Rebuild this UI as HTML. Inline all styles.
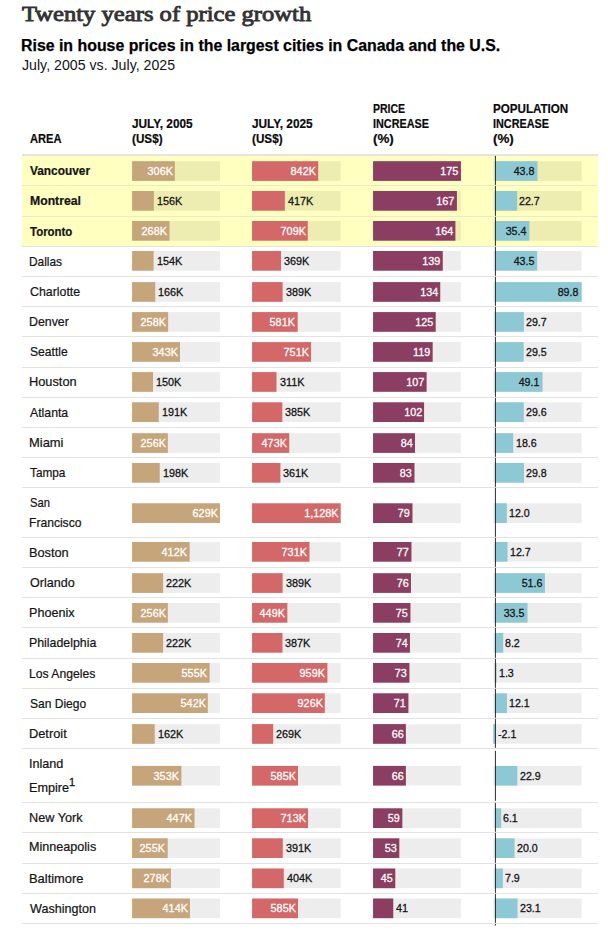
<!DOCTYPE html>
<html lang="en">
<head>
<meta charset="utf-8">
<title>Twenty years of price growth</title>
<style>
html,body{margin:0;padding:0;background:#fff;}
body{width:608px;height:933px;position:relative;overflow:hidden;font-family:"Liberation Sans",sans-serif;color:#141414;}
#g{position:absolute;left:0;top:0;width:608px;height:933px;}
.t{position:absolute;white-space:nowrap;line-height:0;margin:0;padding:0;height:0;}
.t>span{display:inline-block;line-height:0;}
.l>span{transform-origin:0 0;}
.r>span{transform-origin:100% 0;}
.r{text-align:right;}
.serif{font-family:"Liberation Serif",serif;}
.b{font-weight:700;}
.w{color:#fff;}
.lab{-webkit-text-stroke:0.3px currentColor;}
.ttl{-webkit-text-stroke:0.85px currentColor;}
.nm{-webkit-text-stroke:0.22px currentColor;}
.sub{-webkit-text-stroke:0.25px currentColor;color:#000;}
.hd{-webkit-text-stroke:0.2px currentColor;color:#0a0a0a;}
</style>
</head>
<body>
<svg id="g" width="608" height="933" viewBox="0 0 608 933">
<rect x="22.00" y="156.00" width="576.00" height="29.00" fill="#FFFFC0"/>
<rect x="22.00" y="186.00" width="576.00" height="30.00" fill="#FFFFC0"/>
<rect x="22.00" y="217.00" width="576.00" height="29.00" fill="#FFFFC0"/>
<rect x="22.00" y="154.00" width="576.00" height="2.00" fill="#E4E4E4"/>
<rect x="22.00" y="185.00" width="576.00" height="1.00" fill="#E9E9D0"/>
<rect x="22.00" y="216.00" width="576.00" height="1.00" fill="#E9E9D0"/>
<rect x="22.00" y="246.00" width="576.00" height="1.00" fill="#E2E2E2"/>
<rect x="22.00" y="276.00" width="576.00" height="1.00" fill="#E2E2E2"/>
<rect x="22.00" y="306.00" width="576.00" height="1.00" fill="#E2E2E2"/>
<rect x="22.00" y="336.00" width="576.00" height="1.00" fill="#E2E2E2"/>
<rect x="22.00" y="367.00" width="576.00" height="1.00" fill="#E2E2E2"/>
<rect x="22.00" y="397.00" width="576.00" height="1.00" fill="#E2E2E2"/>
<rect x="22.00" y="427.00" width="576.00" height="1.00" fill="#E2E2E2"/>
<rect x="22.00" y="457.00" width="576.00" height="1.00" fill="#E2E2E2"/>
<rect x="22.00" y="487.00" width="576.00" height="1.00" fill="#E2E2E2"/>
<rect x="22.00" y="537.00" width="576.00" height="1.00" fill="#E2E2E2"/>
<rect x="22.00" y="567.00" width="576.00" height="1.00" fill="#E2E2E2"/>
<rect x="22.00" y="597.00" width="576.00" height="1.00" fill="#E2E2E2"/>
<rect x="22.00" y="627.00" width="576.00" height="1.00" fill="#E2E2E2"/>
<rect x="22.00" y="658.00" width="576.00" height="1.00" fill="#E2E2E2"/>
<rect x="22.00" y="688.00" width="576.00" height="1.00" fill="#E2E2E2"/>
<rect x="22.00" y="718.00" width="576.00" height="1.00" fill="#E2E2E2"/>
<rect x="22.00" y="748.00" width="576.00" height="1.00" fill="#E2E2E2"/>
<rect x="22.00" y="802.00" width="576.00" height="1.00" fill="#E2E2E2"/>
<rect x="22.00" y="832.00" width="576.00" height="1.00" fill="#E2E2E2"/>
<rect x="22.00" y="863.00" width="576.00" height="1.00" fill="#E2E2E2"/>
<rect x="22.00" y="893.00" width="576.00" height="1.00" fill="#E2E2E2"/>
<rect x="22.00" y="923.00" width="576.00" height="1.00" fill="#E2E2E2"/>
<rect x="132.07" y="161.20" width="87.90" height="19.70" fill="rgba(0,0,0,0.07)"/>
<rect x="132.07" y="161.20" width="42.76" height="19.70" fill="#C7A57A"/>
<rect x="252.07" y="161.20" width="88.60" height="19.70" fill="rgba(0,0,0,0.07)"/>
<rect x="252.07" y="161.20" width="66.14" height="19.70" fill="#D46868"/>
<rect x="373.06" y="161.20" width="87.85" height="19.70" fill="rgba(0,0,0,0.07)"/>
<rect x="373.06" y="161.20" width="87.90" height="19.70" fill="#8B3D62"/>
<rect x="493.30" y="161.20" width="88.40" height="19.70" fill="rgba(0,0,0,0.07)"/>
<rect x="495.30" y="161.20" width="42.14" height="19.70" fill="#8DC8D5"/>
<rect x="132.07" y="191.00" width="87.90" height="19.70" fill="rgba(0,0,0,0.07)"/>
<rect x="132.07" y="191.00" width="21.80" height="19.70" fill="#C7A57A"/>
<rect x="252.07" y="191.00" width="88.60" height="19.70" fill="rgba(0,0,0,0.07)"/>
<rect x="252.07" y="191.00" width="32.75" height="19.70" fill="#D46868"/>
<rect x="373.06" y="191.00" width="87.85" height="19.70" fill="rgba(0,0,0,0.07)"/>
<rect x="373.06" y="191.00" width="83.86" height="19.70" fill="#8B3D62"/>
<rect x="493.30" y="191.00" width="88.40" height="19.70" fill="rgba(0,0,0,0.07)"/>
<rect x="495.30" y="191.00" width="21.84" height="19.70" fill="#8DC8D5"/>
<rect x="132.07" y="221.00" width="87.90" height="19.70" fill="rgba(0,0,0,0.07)"/>
<rect x="132.07" y="221.00" width="37.45" height="19.70" fill="#C7A57A"/>
<rect x="252.07" y="221.00" width="88.60" height="19.70" fill="rgba(0,0,0,0.07)"/>
<rect x="252.07" y="221.00" width="55.69" height="19.70" fill="#D46868"/>
<rect x="373.06" y="221.00" width="87.85" height="19.70" fill="rgba(0,0,0,0.07)"/>
<rect x="373.06" y="221.00" width="82.34" height="19.70" fill="#8B3D62"/>
<rect x="493.30" y="221.00" width="88.40" height="19.70" fill="rgba(0,0,0,0.07)"/>
<rect x="495.30" y="221.00" width="34.06" height="19.70" fill="#8DC8D5"/>
<rect x="132.07" y="251.00" width="87.90" height="19.70" fill="rgba(0,0,0,0.07)"/>
<rect x="132.07" y="251.00" width="21.52" height="19.70" fill="#C7A57A"/>
<rect x="252.07" y="251.00" width="88.60" height="19.70" fill="rgba(0,0,0,0.07)"/>
<rect x="252.07" y="251.00" width="28.98" height="19.70" fill="#D46868"/>
<rect x="373.06" y="251.00" width="87.85" height="19.70" fill="rgba(0,0,0,0.07)"/>
<rect x="373.06" y="251.00" width="69.71" height="19.70" fill="#8B3D62"/>
<rect x="493.30" y="251.00" width="88.40" height="19.70" fill="rgba(0,0,0,0.07)"/>
<rect x="495.30" y="251.00" width="41.85" height="19.70" fill="#8DC8D5"/>
<rect x="132.07" y="282.10" width="87.90" height="19.70" fill="rgba(0,0,0,0.07)"/>
<rect x="132.07" y="282.10" width="23.20" height="19.70" fill="#C7A57A"/>
<rect x="252.07" y="282.10" width="88.60" height="19.70" fill="rgba(0,0,0,0.07)"/>
<rect x="252.07" y="282.10" width="30.55" height="19.70" fill="#D46868"/>
<rect x="373.06" y="282.10" width="87.85" height="19.70" fill="rgba(0,0,0,0.07)"/>
<rect x="373.06" y="282.10" width="67.19" height="19.70" fill="#8B3D62"/>
<rect x="493.30" y="282.10" width="88.40" height="19.70" fill="rgba(0,0,0,0.07)"/>
<rect x="495.30" y="282.10" width="86.40" height="19.70" fill="#8DC8D5"/>
<rect x="132.07" y="312.10" width="87.90" height="19.70" fill="rgba(0,0,0,0.07)"/>
<rect x="132.07" y="312.10" width="36.05" height="19.70" fill="#C7A57A"/>
<rect x="252.07" y="312.10" width="88.60" height="19.70" fill="rgba(0,0,0,0.07)"/>
<rect x="252.07" y="312.10" width="45.64" height="19.70" fill="#D46868"/>
<rect x="373.06" y="312.10" width="87.85" height="19.70" fill="rgba(0,0,0,0.07)"/>
<rect x="373.06" y="312.10" width="62.64" height="19.70" fill="#8B3D62"/>
<rect x="493.30" y="312.10" width="88.40" height="19.70" fill="rgba(0,0,0,0.07)"/>
<rect x="495.30" y="312.10" width="28.58" height="19.70" fill="#8DC8D5"/>
<rect x="132.07" y="342.10" width="87.90" height="19.70" fill="rgba(0,0,0,0.07)"/>
<rect x="132.07" y="342.10" width="47.93" height="19.70" fill="#C7A57A"/>
<rect x="252.07" y="342.10" width="88.60" height="19.70" fill="rgba(0,0,0,0.07)"/>
<rect x="252.07" y="342.10" width="58.99" height="19.70" fill="#D46868"/>
<rect x="373.06" y="342.10" width="87.85" height="19.70" fill="rgba(0,0,0,0.07)"/>
<rect x="373.06" y="342.10" width="59.61" height="19.70" fill="#8B3D62"/>
<rect x="493.30" y="342.10" width="88.40" height="19.70" fill="rgba(0,0,0,0.07)"/>
<rect x="495.30" y="342.10" width="28.38" height="19.70" fill="#8DC8D5"/>
<rect x="132.07" y="372.10" width="87.90" height="19.70" fill="rgba(0,0,0,0.07)"/>
<rect x="132.07" y="372.10" width="20.96" height="19.70" fill="#C7A57A"/>
<rect x="252.07" y="372.10" width="88.60" height="19.70" fill="rgba(0,0,0,0.07)"/>
<rect x="252.07" y="372.10" width="24.43" height="19.70" fill="#D46868"/>
<rect x="373.06" y="372.10" width="87.85" height="19.70" fill="rgba(0,0,0,0.07)"/>
<rect x="373.06" y="372.10" width="53.55" height="19.70" fill="#8B3D62"/>
<rect x="493.30" y="372.10" width="88.40" height="19.70" fill="rgba(0,0,0,0.07)"/>
<rect x="495.30" y="372.10" width="47.24" height="19.70" fill="#8DC8D5"/>
<rect x="132.07" y="402.30" width="87.90" height="19.70" fill="rgba(0,0,0,0.07)"/>
<rect x="132.07" y="402.30" width="26.69" height="19.70" fill="#C7A57A"/>
<rect x="252.07" y="402.30" width="88.60" height="19.70" fill="rgba(0,0,0,0.07)"/>
<rect x="252.07" y="402.30" width="30.24" height="19.70" fill="#D46868"/>
<rect x="373.06" y="402.30" width="87.85" height="19.70" fill="rgba(0,0,0,0.07)"/>
<rect x="373.06" y="402.30" width="51.02" height="19.70" fill="#8B3D62"/>
<rect x="493.30" y="402.30" width="88.40" height="19.70" fill="rgba(0,0,0,0.07)"/>
<rect x="495.30" y="402.30" width="28.48" height="19.70" fill="#8DC8D5"/>
<rect x="132.07" y="433.20" width="87.90" height="19.70" fill="rgba(0,0,0,0.07)"/>
<rect x="132.07" y="433.20" width="35.77" height="19.70" fill="#C7A57A"/>
<rect x="252.07" y="433.20" width="88.60" height="19.70" fill="rgba(0,0,0,0.07)"/>
<rect x="252.07" y="433.20" width="37.15" height="19.70" fill="#D46868"/>
<rect x="373.06" y="433.20" width="87.85" height="19.70" fill="rgba(0,0,0,0.07)"/>
<rect x="373.06" y="433.20" width="41.93" height="19.70" fill="#8B3D62"/>
<rect x="493.30" y="433.20" width="88.40" height="19.70" fill="rgba(0,0,0,0.07)"/>
<rect x="495.30" y="433.20" width="17.90" height="19.70" fill="#8DC8D5"/>
<rect x="132.07" y="463.00" width="87.90" height="19.70" fill="rgba(0,0,0,0.07)"/>
<rect x="132.07" y="463.00" width="27.67" height="19.70" fill="#C7A57A"/>
<rect x="252.07" y="463.00" width="88.60" height="19.70" fill="rgba(0,0,0,0.07)"/>
<rect x="252.07" y="463.00" width="28.36" height="19.70" fill="#D46868"/>
<rect x="373.06" y="463.00" width="87.85" height="19.70" fill="rgba(0,0,0,0.07)"/>
<rect x="373.06" y="463.00" width="41.43" height="19.70" fill="#8B3D62"/>
<rect x="493.30" y="463.00" width="88.40" height="19.70" fill="rgba(0,0,0,0.07)"/>
<rect x="495.30" y="463.00" width="28.67" height="19.70" fill="#8DC8D5"/>
<rect x="132.07" y="503.30" width="87.90" height="19.70" fill="rgba(0,0,0,0.07)"/>
<rect x="132.07" y="503.30" width="87.90" height="19.70" fill="#C7A57A"/>
<rect x="252.07" y="503.30" width="88.60" height="19.70" fill="rgba(0,0,0,0.07)"/>
<rect x="252.07" y="503.30" width="88.60" height="19.70" fill="#D46868"/>
<rect x="373.06" y="503.30" width="87.85" height="19.70" fill="rgba(0,0,0,0.07)"/>
<rect x="373.06" y="503.30" width="39.41" height="19.70" fill="#8B3D62"/>
<rect x="493.30" y="503.30" width="88.40" height="19.70" fill="rgba(0,0,0,0.07)"/>
<rect x="495.30" y="503.30" width="11.55" height="19.70" fill="#8DC8D5"/>
<rect x="132.07" y="542.00" width="87.90" height="19.70" fill="rgba(0,0,0,0.07)"/>
<rect x="132.07" y="542.00" width="57.58" height="19.70" fill="#C7A57A"/>
<rect x="252.07" y="542.00" width="88.60" height="19.70" fill="rgba(0,0,0,0.07)"/>
<rect x="252.07" y="542.00" width="57.42" height="19.70" fill="#D46868"/>
<rect x="373.06" y="542.00" width="87.85" height="19.70" fill="rgba(0,0,0,0.07)"/>
<rect x="373.06" y="542.00" width="38.40" height="19.70" fill="#8B3D62"/>
<rect x="493.30" y="542.00" width="88.40" height="19.70" fill="rgba(0,0,0,0.07)"/>
<rect x="495.30" y="542.00" width="12.22" height="19.70" fill="#8DC8D5"/>
<rect x="132.07" y="573.20" width="87.90" height="19.70" fill="rgba(0,0,0,0.07)"/>
<rect x="132.07" y="573.20" width="31.02" height="19.70" fill="#C7A57A"/>
<rect x="252.07" y="573.20" width="88.60" height="19.70" fill="rgba(0,0,0,0.07)"/>
<rect x="252.07" y="573.20" width="30.55" height="19.70" fill="#D46868"/>
<rect x="373.06" y="573.20" width="87.85" height="19.70" fill="rgba(0,0,0,0.07)"/>
<rect x="373.06" y="573.20" width="37.89" height="19.70" fill="#8B3D62"/>
<rect x="493.30" y="573.20" width="88.40" height="19.70" fill="rgba(0,0,0,0.07)"/>
<rect x="495.30" y="573.20" width="49.65" height="19.70" fill="#8DC8D5"/>
<rect x="132.07" y="603.00" width="87.90" height="19.70" fill="rgba(0,0,0,0.07)"/>
<rect x="132.07" y="603.00" width="35.77" height="19.70" fill="#C7A57A"/>
<rect x="252.07" y="603.00" width="88.60" height="19.70" fill="rgba(0,0,0,0.07)"/>
<rect x="252.07" y="603.00" width="35.27" height="19.70" fill="#D46868"/>
<rect x="373.06" y="603.00" width="87.85" height="19.70" fill="rgba(0,0,0,0.07)"/>
<rect x="373.06" y="603.00" width="37.39" height="19.70" fill="#8B3D62"/>
<rect x="493.30" y="603.00" width="88.40" height="19.70" fill="rgba(0,0,0,0.07)"/>
<rect x="495.30" y="603.00" width="32.23" height="19.70" fill="#8DC8D5"/>
<rect x="132.07" y="633.00" width="87.90" height="19.70" fill="rgba(0,0,0,0.07)"/>
<rect x="132.07" y="633.00" width="31.02" height="19.70" fill="#C7A57A"/>
<rect x="252.07" y="633.00" width="88.60" height="19.70" fill="rgba(0,0,0,0.07)"/>
<rect x="252.07" y="633.00" width="30.40" height="19.70" fill="#D46868"/>
<rect x="373.06" y="633.00" width="87.85" height="19.70" fill="rgba(0,0,0,0.07)"/>
<rect x="373.06" y="633.00" width="36.88" height="19.70" fill="#8B3D62"/>
<rect x="493.30" y="633.00" width="88.40" height="19.70" fill="rgba(0,0,0,0.07)"/>
<rect x="495.30" y="633.00" width="7.89" height="19.70" fill="#8DC8D5"/>
<rect x="132.07" y="663.00" width="87.90" height="19.70" fill="rgba(0,0,0,0.07)"/>
<rect x="132.07" y="663.00" width="77.56" height="19.70" fill="#C7A57A"/>
<rect x="252.07" y="663.00" width="88.60" height="19.70" fill="rgba(0,0,0,0.07)"/>
<rect x="252.07" y="663.00" width="75.33" height="19.70" fill="#D46868"/>
<rect x="373.06" y="663.00" width="87.85" height="19.70" fill="rgba(0,0,0,0.07)"/>
<rect x="373.06" y="663.00" width="36.38" height="19.70" fill="#8B3D62"/>
<rect x="493.30" y="663.00" width="88.40" height="19.70" fill="rgba(0,0,0,0.07)"/>
<rect x="495.30" y="663.00" width="1.25" height="19.70" fill="#8DC8D5"/>
<rect x="132.07" y="693.30" width="87.90" height="19.70" fill="rgba(0,0,0,0.07)"/>
<rect x="132.07" y="693.30" width="75.74" height="19.70" fill="#C7A57A"/>
<rect x="252.07" y="693.30" width="88.60" height="19.70" fill="rgba(0,0,0,0.07)"/>
<rect x="252.07" y="693.30" width="72.73" height="19.70" fill="#D46868"/>
<rect x="373.06" y="693.30" width="87.85" height="19.70" fill="rgba(0,0,0,0.07)"/>
<rect x="373.06" y="693.30" width="35.37" height="19.70" fill="#8B3D62"/>
<rect x="493.30" y="693.30" width="88.40" height="19.70" fill="rgba(0,0,0,0.07)"/>
<rect x="495.30" y="693.30" width="11.64" height="19.70" fill="#8DC8D5"/>
<rect x="132.07" y="724.10" width="87.90" height="19.70" fill="rgba(0,0,0,0.07)"/>
<rect x="132.07" y="724.10" width="22.64" height="19.70" fill="#C7A57A"/>
<rect x="252.07" y="724.10" width="88.60" height="19.70" fill="rgba(0,0,0,0.07)"/>
<rect x="252.07" y="724.10" width="21.13" height="19.70" fill="#D46868"/>
<rect x="373.06" y="724.10" width="87.85" height="19.70" fill="rgba(0,0,0,0.07)"/>
<rect x="373.06" y="724.10" width="32.84" height="19.70" fill="#8B3D62"/>
<rect x="493.30" y="724.10" width="88.40" height="19.70" fill="rgba(0,0,0,0.07)"/>
<rect x="493.28" y="724.10" width="2.02" height="19.70" fill="#8DC8D5"/>
<rect x="132.07" y="765.90" width="87.90" height="19.70" fill="rgba(0,0,0,0.07)"/>
<rect x="132.07" y="765.90" width="49.33" height="19.70" fill="#C7A57A"/>
<rect x="252.07" y="765.90" width="88.60" height="19.70" fill="rgba(0,0,0,0.07)"/>
<rect x="252.07" y="765.90" width="45.95" height="19.70" fill="#D46868"/>
<rect x="373.06" y="765.90" width="87.85" height="19.70" fill="rgba(0,0,0,0.07)"/>
<rect x="373.06" y="765.90" width="32.84" height="19.70" fill="#8B3D62"/>
<rect x="493.30" y="765.90" width="88.40" height="19.70" fill="rgba(0,0,0,0.07)"/>
<rect x="495.30" y="765.90" width="22.03" height="19.70" fill="#8DC8D5"/>
<rect x="132.07" y="808.30" width="87.90" height="19.70" fill="rgba(0,0,0,0.07)"/>
<rect x="132.07" y="808.30" width="62.47" height="19.70" fill="#C7A57A"/>
<rect x="252.07" y="808.30" width="88.60" height="19.70" fill="rgba(0,0,0,0.07)"/>
<rect x="252.07" y="808.30" width="56.00" height="19.70" fill="#D46868"/>
<rect x="373.06" y="808.30" width="87.85" height="19.70" fill="rgba(0,0,0,0.07)"/>
<rect x="373.06" y="808.30" width="29.30" height="19.70" fill="#8B3D62"/>
<rect x="493.30" y="808.30" width="88.40" height="19.70" fill="rgba(0,0,0,0.07)"/>
<rect x="495.30" y="808.30" width="5.87" height="19.70" fill="#8DC8D5"/>
<rect x="132.07" y="838.30" width="87.90" height="19.70" fill="rgba(0,0,0,0.07)"/>
<rect x="132.07" y="838.30" width="35.64" height="19.70" fill="#C7A57A"/>
<rect x="252.07" y="838.30" width="88.60" height="19.70" fill="rgba(0,0,0,0.07)"/>
<rect x="252.07" y="838.30" width="30.71" height="19.70" fill="#D46868"/>
<rect x="373.06" y="838.30" width="87.85" height="19.70" fill="rgba(0,0,0,0.07)"/>
<rect x="373.06" y="838.30" width="26.27" height="19.70" fill="#8B3D62"/>
<rect x="493.30" y="838.30" width="88.40" height="19.70" fill="rgba(0,0,0,0.07)"/>
<rect x="495.30" y="838.30" width="19.24" height="19.70" fill="#8DC8D5"/>
<rect x="132.07" y="868.50" width="87.90" height="19.70" fill="rgba(0,0,0,0.07)"/>
<rect x="132.07" y="868.50" width="38.85" height="19.70" fill="#C7A57A"/>
<rect x="252.07" y="868.50" width="88.60" height="19.70" fill="rgba(0,0,0,0.07)"/>
<rect x="252.07" y="868.50" width="31.73" height="19.70" fill="#D46868"/>
<rect x="373.06" y="868.50" width="87.85" height="19.70" fill="rgba(0,0,0,0.07)"/>
<rect x="373.06" y="868.50" width="22.23" height="19.70" fill="#8B3D62"/>
<rect x="493.30" y="868.50" width="88.40" height="19.70" fill="rgba(0,0,0,0.07)"/>
<rect x="495.30" y="868.50" width="7.60" height="19.70" fill="#8DC8D5"/>
<rect x="132.07" y="898.50" width="87.90" height="19.70" fill="rgba(0,0,0,0.07)"/>
<rect x="132.07" y="898.50" width="57.85" height="19.70" fill="#C7A57A"/>
<rect x="252.07" y="898.50" width="88.60" height="19.70" fill="rgba(0,0,0,0.07)"/>
<rect x="252.07" y="898.50" width="45.95" height="19.70" fill="#D46868"/>
<rect x="373.06" y="898.50" width="87.85" height="19.70" fill="rgba(0,0,0,0.07)"/>
<rect x="373.06" y="898.50" width="20.21" height="19.70" fill="#8B3D62"/>
<rect x="493.30" y="898.50" width="88.40" height="19.70" fill="rgba(0,0,0,0.07)"/>
<rect x="495.30" y="898.50" width="22.23" height="19.70" fill="#8DC8D5"/>
<rect x="494.90" y="155.85" width="1.10" height="29.00" fill="rgba(0,0,0,0.75)"/>
<rect x="494.90" y="185.85" width="1.10" height="30.00" fill="rgba(0,0,0,0.75)"/>
<rect x="494.90" y="216.85" width="1.10" height="29.00" fill="rgba(0,0,0,0.75)"/>
<rect x="494.90" y="246.85" width="1.10" height="29.00" fill="rgba(0,0,0,0.75)"/>
<rect x="494.90" y="276.85" width="1.10" height="29.00" fill="rgba(0,0,0,0.75)"/>
<rect x="494.90" y="306.85" width="1.10" height="29.00" fill="rgba(0,0,0,0.75)"/>
<rect x="494.90" y="336.85" width="1.10" height="30.00" fill="rgba(0,0,0,0.75)"/>
<rect x="494.90" y="367.85" width="1.10" height="29.00" fill="rgba(0,0,0,0.75)"/>
<rect x="494.90" y="397.85" width="1.10" height="29.00" fill="rgba(0,0,0,0.75)"/>
<rect x="494.90" y="427.85" width="1.10" height="29.00" fill="rgba(0,0,0,0.75)"/>
<rect x="494.90" y="457.85" width="1.10" height="29.00" fill="rgba(0,0,0,0.75)"/>
<rect x="494.90" y="487.85" width="1.10" height="49.00" fill="rgba(0,0,0,0.75)"/>
<rect x="494.90" y="537.85" width="1.10" height="29.00" fill="rgba(0,0,0,0.75)"/>
<rect x="494.90" y="567.85" width="1.10" height="29.00" fill="rgba(0,0,0,0.75)"/>
<rect x="494.90" y="597.85" width="1.10" height="29.00" fill="rgba(0,0,0,0.75)"/>
<rect x="494.90" y="627.85" width="1.10" height="30.00" fill="rgba(0,0,0,0.75)"/>
<rect x="494.90" y="658.85" width="1.10" height="29.00" fill="rgba(0,0,0,0.75)"/>
<rect x="494.90" y="688.85" width="1.10" height="29.00" fill="rgba(0,0,0,0.75)"/>
<rect x="494.90" y="718.85" width="1.10" height="29.00" fill="rgba(0,0,0,0.75)"/>
<rect x="494.90" y="750.85" width="1.10" height="50.00" fill="rgba(0,0,0,0.75)"/>
<rect x="494.90" y="802.85" width="1.10" height="29.00" fill="rgba(0,0,0,0.75)"/>
<rect x="494.90" y="832.85" width="1.10" height="30.00" fill="rgba(0,0,0,0.75)"/>
<rect x="494.90" y="863.85" width="1.10" height="29.00" fill="rgba(0,0,0,0.75)"/>
<rect x="494.90" y="893.85" width="1.10" height="29.00" fill="rgba(0,0,0,0.75)"/>
<rect x="494.90" y="924.00" width="1.10" height="1.50" fill="rgba(0,0,0,0.75)"/>
</svg>
<div class="t l serif ttl" style="font-size:21px;top:14px;left:21.60px;color:#333333;"><span style="transform:scaleX(1.1712)">Twenty years of price growth</span></div>
<div class="t l b sub" style="font-size:16px;top:46px;left:21.31px;"><span style="transform:scaleX(0.9926)">Rise in house prices in the largest cities in Canada and the U.S.</span></div>
<div class="t l" style="font-size:14px;top:65px;left:22.40px;"><span style="transform:scaleX(1.0122)">July, 2005 vs. July, 2025</span></div>
<div class="t l b hd" style="font-size:12.5px;top:139px;left:29.90px;"><span style="transform:scaleX(0.8900)">AREA</span></div>
<div class="t l b hd" style="font-size:12.5px;top:124px;left:132.10px;"><span style="transform:scaleX(0.9452)">JULY, 2005</span></div>
<div class="t l b hd" style="font-size:12.5px;top:139px;left:132.10px;"><span style="transform:scaleX(0.9360)">(US$)</span></div>
<div class="t l b hd" style="font-size:12.5px;top:124px;left:252.10px;"><span style="transform:scaleX(0.9452)">JULY, 2025</span></div>
<div class="t l b hd" style="font-size:12.5px;top:139px;left:252.10px;"><span style="transform:scaleX(0.9360)">(US$)</span></div>
<div class="t l b hd" style="font-size:12.5px;top:109px;left:373.20px;"><span style="transform:scaleX(0.8398)">PRICE</span></div>
<div class="t l b hd" style="font-size:12.5px;top:124px;left:373.20px;"><span style="transform:scaleX(0.8653)">INCREASE</span></div>
<div class="t l b hd" style="font-size:12.5px;top:139px;left:373.20px;"><span style="transform:scaleX(1.0686)">(%)</span></div>
<div class="t l b hd" style="font-size:12.5px;top:109px;left:493.20px;"><span style="transform:scaleX(0.9285)">POPULATION</span></div>
<div class="t l b hd" style="font-size:12.5px;top:124px;left:493.20px;"><span style="transform:scaleX(0.8653)">INCREASE</span></div>
<div class="t l b hd" style="font-size:12.5px;top:139px;left:493.20px;"><span style="transform:scaleX(1.0686)">(%)</span></div>
<div class="t l b nm" style="font-size:13.0px;top:171px;left:29.80px;"><span style="transform:scaleX(0.9133)">Vancouver</span></div>
<div class="t r lab w" style="font-size:11.5px;top:171px;right:435.57px;"><span style="transform:scaleX(0.9400)">306K</span></div>
<div class="t r lab w" style="font-size:11.5px;top:171px;right:292.19px;"><span style="transform:scaleX(0.9400)">842K</span></div>
<div class="t r lab w" style="font-size:11.5px;top:171px;right:149.44px;"><span style="transform:scaleX(0.9400)">175</span></div>
<div class="t r lab" style="font-size:11.5px;top:171px;right:73.56px;"><span style="transform:scaleX(0.9250)">43.8</span></div>
<div class="t l b nm" style="font-size:13.0px;top:201px;left:29.80px;"><span style="transform:scaleX(0.9391)">Montreal</span></div>
<div class="t l lab" style="font-size:11.5px;top:201px;left:156.87px;"><span style="transform:scaleX(0.9400)">156K</span></div>
<div class="t l lab" style="font-size:11.5px;top:201px;left:287.82px;"><span style="transform:scaleX(0.9400)">417K</span></div>
<div class="t r lab w" style="font-size:11.5px;top:201px;right:153.48px;"><span style="transform:scaleX(0.9400)">167</span></div>
<div class="t l lab" style="font-size:11.5px;top:201px;left:519.44px;"><span style="transform:scaleX(0.9250)">22.7</span></div>
<div class="t l b nm" style="font-size:13.0px;top:232px;left:29.80px;"><span style="transform:scaleX(0.8799)">Toronto</span></div>
<div class="t r lab w" style="font-size:11.5px;top:231px;right:440.88px;"><span style="transform:scaleX(0.9400)">268K</span></div>
<div class="t r lab w" style="font-size:11.5px;top:231px;right:302.64px;"><span style="transform:scaleX(0.9400)">709K</span></div>
<div class="t r lab w" style="font-size:11.5px;top:231px;right:155.00px;"><span style="transform:scaleX(0.9400)">164</span></div>
<div class="t r lab" style="font-size:11.5px;top:231px;right:81.64px;"><span style="transform:scaleX(0.9250)">35.4</span></div>
<div class="t l nm" style="font-size:13.0px;top:262px;left:28.88px;"><span style="transform:scaleX(0.9151)">Dallas</span></div>
<div class="t l lab" style="font-size:11.5px;top:261px;left:156.59px;"><span style="transform:scaleX(0.9400)">154K</span></div>
<div class="t l lab" style="font-size:11.5px;top:261px;left:284.05px;"><span style="transform:scaleX(0.9400)">369K</span></div>
<div class="t r lab w" style="font-size:11.5px;top:261px;right:167.63px;"><span style="transform:scaleX(0.9400)">139</span></div>
<div class="t r lab" style="font-size:11.5px;top:261px;right:73.85px;"><span style="transform:scaleX(0.9250)">43.5</span></div>
<div class="t l nm" style="font-size:13.0px;top:292px;left:29.80px;"><span style="transform:scaleX(0.9501)">Charlotte</span></div>
<div class="t l lab" style="font-size:11.5px;top:292px;left:158.27px;"><span style="transform:scaleX(0.9400)">166K</span></div>
<div class="t l lab" style="font-size:11.5px;top:292px;left:285.62px;"><span style="transform:scaleX(0.9400)">389K</span></div>
<div class="t r lab w" style="font-size:11.5px;top:292px;right:170.15px;"><span style="transform:scaleX(0.9400)">134</span></div>
<div class="t r lab" style="font-size:11.5px;top:292px;right:29.30px;"><span style="transform:scaleX(0.9250)">89.8</span></div>
<div class="t l nm" style="font-size:13.0px;top:322px;left:28.85px;"><span style="transform:scaleX(0.9500)">Denver</span></div>
<div class="t r lab w" style="font-size:11.5px;top:322px;right:442.28px;"><span style="transform:scaleX(0.9400)">258K</span></div>
<div class="t r lab w" style="font-size:11.5px;top:322px;right:312.69px;"><span style="transform:scaleX(0.9400)">581K</span></div>
<div class="t r lab w" style="font-size:11.5px;top:322px;right:174.70px;"><span style="transform:scaleX(0.9400)">125</span></div>
<div class="t l lab" style="font-size:11.5px;top:322px;left:526.18px;"><span style="transform:scaleX(0.9250)">29.7</span></div>
<div class="t l nm" style="font-size:13.0px;top:352px;left:29.80px;"><span style="transform:scaleX(0.9318)">Seattle</span></div>
<div class="t r lab w" style="font-size:11.5px;top:352px;right:430.40px;"><span style="transform:scaleX(0.9400)">343K</span></div>
<div class="t r lab w" style="font-size:11.5px;top:352px;right:299.34px;"><span style="transform:scaleX(0.9400)">751K</span></div>
<div class="t r lab w" style="font-size:11.5px;top:352px;right:177.73px;"><span style="transform:scaleX(0.9400)">119</span></div>
<div class="t l lab" style="font-size:11.5px;top:352px;left:525.98px;"><span style="transform:scaleX(0.9250)">29.5</span></div>
<div class="t l nm" style="font-size:13.0px;top:382px;left:28.82px;"><span style="transform:scaleX(0.9833)">Houston</span></div>
<div class="t l lab" style="font-size:11.5px;top:382px;left:156.03px;"><span style="transform:scaleX(0.9400)">150K</span></div>
<div class="t l lab" style="font-size:11.5px;top:382px;left:279.50px;"><span style="transform:scaleX(0.9400)">311K</span></div>
<div class="t r lab w" style="font-size:11.5px;top:382px;right:183.79px;"><span style="transform:scaleX(0.9400)">107</span></div>
<div class="t r lab" style="font-size:11.5px;top:382px;right:68.46px;"><span style="transform:scaleX(0.9250)">49.1</span></div>
<div class="t l nm" style="font-size:13.0px;top:413px;left:29.80px;"><span style="transform:scaleX(0.9432)">Atlanta</span></div>
<div class="t l lab" style="font-size:11.5px;top:412px;left:161.76px;"><span style="transform:scaleX(0.9400)">191K</span></div>
<div class="t l lab" style="font-size:11.5px;top:412px;left:285.31px;"><span style="transform:scaleX(0.9400)">385K</span></div>
<div class="t r lab w" style="font-size:11.5px;top:412px;right:186.32px;"><span style="transform:scaleX(0.9400)">102</span></div>
<div class="t l lab" style="font-size:11.5px;top:412px;left:526.08px;"><span style="transform:scaleX(0.9250)">29.6</span></div>
<div class="t l nm" style="font-size:13.0px;top:443px;left:28.81px;"><span style="transform:scaleX(0.9948)">Miami</span></div>
<div class="t r lab w" style="font-size:11.5px;top:443px;right:442.56px;"><span style="transform:scaleX(0.9400)">256K</span></div>
<div class="t r lab w" style="font-size:11.5px;top:443px;right:321.18px;"><span style="transform:scaleX(0.9400)">473K</span></div>
<div class="t r lab w" style="font-size:11.5px;top:443px;right:195.41px;"><span style="transform:scaleX(0.9400)">84</span></div>
<div class="t l lab" style="font-size:11.5px;top:443px;left:515.50px;"><span style="transform:scaleX(0.9250)">18.6</span></div>
<div class="t l nm" style="font-size:13.0px;top:473px;left:29.80px;"><span style="transform:scaleX(0.9073)">Tampa</span></div>
<div class="t l lab" style="font-size:11.5px;top:473px;left:162.74px;"><span style="transform:scaleX(0.9400)">198K</span></div>
<div class="t l lab" style="font-size:11.5px;top:473px;left:283.43px;"><span style="transform:scaleX(0.9400)">361K</span></div>
<div class="t r lab w" style="font-size:11.5px;top:473px;right:195.91px;"><span style="transform:scaleX(0.9400)">83</span></div>
<div class="t l lab" style="font-size:11.5px;top:473px;left:526.27px;"><span style="transform:scaleX(0.9250)">29.8</span></div>
<div class="t l nm" style="font-size:13.0px;top:503px;left:29.80px;"><span style="transform:scaleX(0.8602)">San</span></div>
<div class="t l nm" style="font-size:13.0px;top:523px;left:28.87px;"><span style="transform:scaleX(0.9307)">Francisco</span></div>
<div class="t r lab w" style="font-size:11.5px;top:513px;right:390.43px;"><span style="transform:scaleX(0.9400)">629K</span></div>
<div class="t r lab w" style="font-size:11.5px;top:513px;right:269.73px;"><span style="transform:scaleX(0.9400)">1,128K</span></div>
<div class="t r lab w" style="font-size:11.5px;top:513px;right:197.93px;"><span style="transform:scaleX(0.9400)">79</span></div>
<div class="t l lab" style="font-size:11.5px;top:513px;left:509.15px;"><span style="transform:scaleX(0.9250)">12.0</span></div>
<div class="t l nm" style="font-size:13.0px;top:553px;left:28.82px;"><span style="transform:scaleX(0.9811)">Boston</span></div>
<div class="t r lab w" style="font-size:11.5px;top:552px;right:420.75px;"><span style="transform:scaleX(0.9400)">412K</span></div>
<div class="t r lab w" style="font-size:11.5px;top:552px;right:300.91px;"><span style="transform:scaleX(0.9400)">731K</span></div>
<div class="t r lab w" style="font-size:11.5px;top:552px;right:198.94px;"><span style="transform:scaleX(0.9400)">77</span></div>
<div class="t l lab" style="font-size:11.5px;top:552px;left:509.82px;"><span style="transform:scaleX(0.9250)">12.7</span></div>
<div class="t l nm" style="font-size:13.0px;top:583px;left:29.80px;"><span style="transform:scaleX(0.9648)">Orlando</span></div>
<div class="t l lab" style="font-size:11.5px;top:583px;left:166.09px;"><span style="transform:scaleX(0.9400)">222K</span></div>
<div class="t l lab" style="font-size:11.5px;top:583px;left:285.62px;"><span style="transform:scaleX(0.9400)">389K</span></div>
<div class="t r lab w" style="font-size:11.5px;top:583px;right:199.45px;"><span style="transform:scaleX(0.9400)">76</span></div>
<div class="t r lab" style="font-size:11.5px;top:583px;right:66.05px;"><span style="transform:scaleX(0.9250)">51.6</span></div>
<div class="t l nm" style="font-size:13.0px;top:613px;left:28.83px;"><span style="transform:scaleX(0.9682)">Phoenix</span></div>
<div class="t r lab w" style="font-size:11.5px;top:613px;right:442.56px;"><span style="transform:scaleX(0.9400)">256K</span></div>
<div class="t r lab w" style="font-size:11.5px;top:613px;right:323.06px;"><span style="transform:scaleX(0.9400)">449K</span></div>
<div class="t r lab w" style="font-size:11.5px;top:613px;right:199.95px;"><span style="transform:scaleX(0.9400)">75</span></div>
<div class="t r lab" style="font-size:11.5px;top:613px;right:83.47px;"><span style="transform:scaleX(0.9250)">33.5</span></div>
<div class="t l nm" style="font-size:13.0px;top:643px;left:28.85px;"><span style="transform:scaleX(0.9504)">Philadelphia</span></div>
<div class="t l lab" style="font-size:11.5px;top:643px;left:166.09px;"><span style="transform:scaleX(0.9400)">222K</span></div>
<div class="t l lab" style="font-size:11.5px;top:643px;left:285.47px;"><span style="transform:scaleX(0.9400)">387K</span></div>
<div class="t r lab w" style="font-size:11.5px;top:643px;right:200.46px;"><span style="transform:scaleX(0.9400)">74</span></div>
<div class="t l lab" style="font-size:11.5px;top:643px;left:505.49px;"><span style="transform:scaleX(0.9250)">8.2</span></div>
<div class="t l nm" style="font-size:13.0px;top:674px;left:28.86px;"><span style="transform:scaleX(0.9360)">Los Angeles</span></div>
<div class="t r lab w" style="font-size:11.5px;top:673px;right:400.77px;"><span style="transform:scaleX(0.9400)">555K</span></div>
<div class="t r lab w" style="font-size:11.5px;top:673px;right:283.00px;"><span style="transform:scaleX(0.9400)">959K</span></div>
<div class="t r lab w" style="font-size:11.5px;top:673px;right:200.96px;"><span style="transform:scaleX(0.9400)">73</span></div>
<div class="t l lab" style="font-size:11.5px;top:673px;left:498.85px;"><span style="transform:scaleX(0.9250)">1.3</span></div>
<div class="t l nm" style="font-size:13.0px;top:704px;left:29.80px;"><span style="transform:scaleX(0.9243)">San Diego</span></div>
<div class="t r lab w" style="font-size:11.5px;top:703px;right:402.59px;"><span style="transform:scaleX(0.9400)">542K</span></div>
<div class="t r lab w" style="font-size:11.5px;top:703px;right:285.60px;"><span style="transform:scaleX(0.9400)">926K</span></div>
<div class="t r lab w" style="font-size:11.5px;top:703px;right:201.97px;"><span style="transform:scaleX(0.9400)">71</span></div>
<div class="t l lab" style="font-size:11.5px;top:703px;left:509.24px;"><span style="transform:scaleX(0.9250)">12.1</span></div>
<div class="t l nm" style="font-size:13.0px;top:734px;left:28.82px;"><span style="transform:scaleX(0.9847)">Detroit</span></div>
<div class="t l lab" style="font-size:11.5px;top:734px;left:157.71px;"><span style="transform:scaleX(0.9400)">162K</span></div>
<div class="t l lab" style="font-size:11.5px;top:734px;left:276.20px;"><span style="transform:scaleX(0.9400)">269K</span></div>
<div class="t r lab w" style="font-size:11.5px;top:734px;right:204.50px;"><span style="transform:scaleX(0.9400)">66</span></div>
<div class="t l lab" style="font-size:11.5px;top:734px;left:497.70px;"><span style="transform:scaleX(0.9250)">-2.1</span></div>
<div class="t l nm" style="font-size:13.0px;top:764px;left:28.83px;"><span style="transform:scaleX(0.9710)">Inland</span></div>
<div class="t l nm" style="font-size:13.0px;top:788px;left:28.83px;"><span style="transform:scaleX(0.9738)">Empire</span></div>
<div class="t l lab" style="font-size:11.5px;top:782px;left:68.60px;"><span style="transform:scaleX(0.9500)">1</span></div>
<div class="t r lab w" style="font-size:11.5px;top:776px;right:429.00px;"><span style="transform:scaleX(0.9400)">353K</span></div>
<div class="t r lab w" style="font-size:11.5px;top:776px;right:312.38px;"><span style="transform:scaleX(0.9400)">585K</span></div>
<div class="t r lab w" style="font-size:11.5px;top:776px;right:204.50px;"><span style="transform:scaleX(0.9400)">66</span></div>
<div class="t l lab" style="font-size:11.5px;top:776px;left:519.63px;"><span style="transform:scaleX(0.9250)">22.9</span></div>
<div class="t l nm" style="font-size:13.0px;top:818px;left:28.82px;"><span style="transform:scaleX(0.9752)">New York</span></div>
<div class="t r lab w" style="font-size:11.5px;top:818px;right:415.86px;"><span style="transform:scaleX(0.9400)">447K</span></div>
<div class="t r lab w" style="font-size:11.5px;top:818px;right:302.33px;"><span style="transform:scaleX(0.9400)">713K</span></div>
<div class="t r lab w" style="font-size:11.5px;top:818px;right:208.04px;"><span style="transform:scaleX(0.9400)">59</span></div>
<div class="t l lab" style="font-size:11.5px;top:818px;left:503.47px;"><span style="transform:scaleX(0.9250)">6.1</span></div>
<div class="t l nm" style="font-size:13.0px;top:847px;left:28.83px;"><span style="transform:scaleX(0.9684)">Minneapolis</span></div>
<div class="t r lab w" style="font-size:11.5px;top:848px;right:442.69px;"><span style="transform:scaleX(0.9400)">255K</span></div>
<div class="t l lab" style="font-size:11.5px;top:848px;left:285.78px;"><span style="transform:scaleX(0.9400)">391K</span></div>
<div class="t r lab w" style="font-size:11.5px;top:848px;right:211.07px;"><span style="transform:scaleX(0.9400)">53</span></div>
<div class="t l lab" style="font-size:11.5px;top:848px;left:516.84px;"><span style="transform:scaleX(0.9250)">20.0</span></div>
<div class="t l nm" style="font-size:13.0px;top:879px;left:28.81px;"><span style="transform:scaleX(0.9930)">Baltimore</span></div>
<div class="t r lab w" style="font-size:11.5px;top:878px;right:439.48px;"><span style="transform:scaleX(0.9400)">278K</span></div>
<div class="t l lab" style="font-size:11.5px;top:878px;left:286.80px;"><span style="transform:scaleX(0.9400)">404K</span></div>
<div class="t r lab w" style="font-size:11.5px;top:878px;right:215.11px;"><span style="transform:scaleX(0.9400)">45</span></div>
<div class="t l lab" style="font-size:11.5px;top:878px;left:505.20px;"><span style="transform:scaleX(0.9250)">7.9</span></div>
<div class="t l nm" style="font-size:13.0px;top:909px;left:29.80px;"><span style="transform:scaleX(0.9671)">Washington</span></div>
<div class="t r lab w" style="font-size:11.5px;top:908px;right:420.48px;"><span style="transform:scaleX(0.9400)">414K</span></div>
<div class="t r lab w" style="font-size:11.5px;top:908px;right:312.38px;"><span style="transform:scaleX(0.9400)">585K</span></div>
<div class="t l lab" style="font-size:11.5px;top:908px;left:396.27px;"><span style="transform:scaleX(0.9400)">41</span></div>
<div class="t l lab" style="font-size:11.5px;top:908px;left:519.83px;"><span style="transform:scaleX(0.9250)">23.1</span></div>
</body>
</html>
